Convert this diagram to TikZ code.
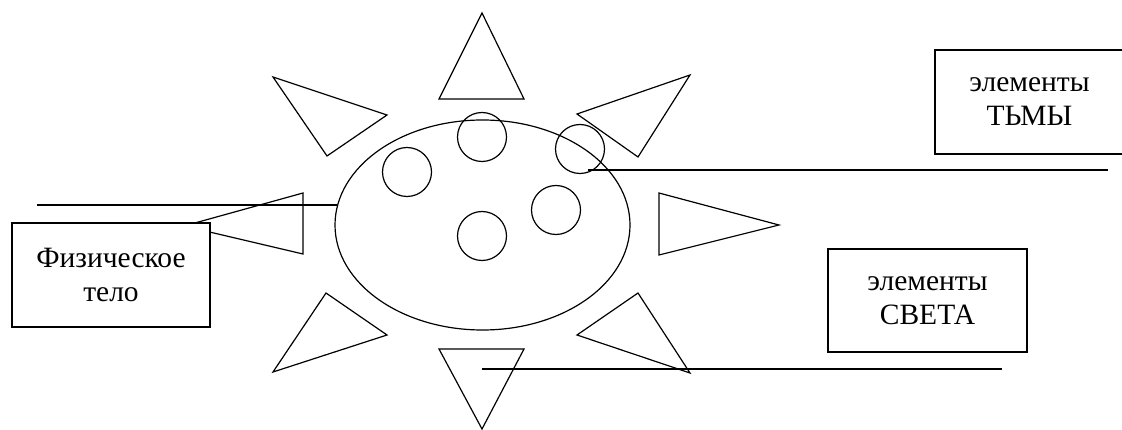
\documentclass[tikz,border=0pt]{standalone}
\usepackage{fontspec}
\setmainfont{Liberation Serif}
\usetikzlibrary{shapes.geometric, positioning}

\begin{document}
\begin{tikzpicture}[x=1pt, y=-1pt, line width=1.2pt,
        spot/.style={draw, circle, minimum size=49pt, inner sep=0pt},
        labelbox/.style={draw, fill=white, align=center, inner sep=0pt,
            font=\fontsize{29.5}{34}\selectfont}]
        \useasboundingbox (0,0) rectangle (1122,430);

        % body with its elements
        \node (body) [draw, ellipse, minimum width=295pt, minimum height=210pt, inner sep=0pt] at (482.5,225) {};
        \node (c1) [spot] at (482,137) {};
        \node (c2) [spot] at (407,172) {};
        \node (c3) [spot] at (580,149) {};
        \node (c4) [spot] at (556,210) {};
        \node (c5) [spot] at (482,236) {};

        % rays
        \draw (482,13) -- (439,99) -- (524,99) -- cycle;
        \draw (273,77) -- (387,115) -- (327,156) -- cycle;
        \draw (577,114) -- (690,75) -- (638,157) -- cycle;
        \draw (659,193) -- (779,225) -- (659,255) -- cycle;
        \draw (303,193) -- (184,226) -- (303,254) -- cycle;
        \draw (273,372) -- (326,293) -- (387,335) -- cycle;
        \draw (439,349) -- (524,349) -- (482,429) -- cycle;
        \draw (577,335) -- (638,293) -- (690,373) -- cycle;

        % labels
        \node (phys) [labelbox, minimum width=198pt, minimum height=104pt] at (111,275) {Физическое\\тело};
        \node (dark) [labelbox, minimum width=189pt, minimum height=104pt] at (1029.5,102) {элементы\\ТЬМЫ};
        \node (light) [labelbox, minimum width=199pt, minimum height=103pt] at (927.5,300.5) {элементы\\СВЕТА};

        \coordinate (physEnd) at (37,205);
        \coordinate (bodyLeft) at (337,205);
        \coordinate (darkStart) at (588,170);
        \coordinate (darkEnd) at (1108,170);
        \coordinate (lightStart) at (482,369);
        \coordinate (lightEnd) at (1002,369);

        \draw (physEnd) -- (bodyLeft);
        \draw (darkStart) -- (darkEnd);
        \draw (lightStart) -- (lightEnd);
    \end{tikzpicture}
\end{document}
